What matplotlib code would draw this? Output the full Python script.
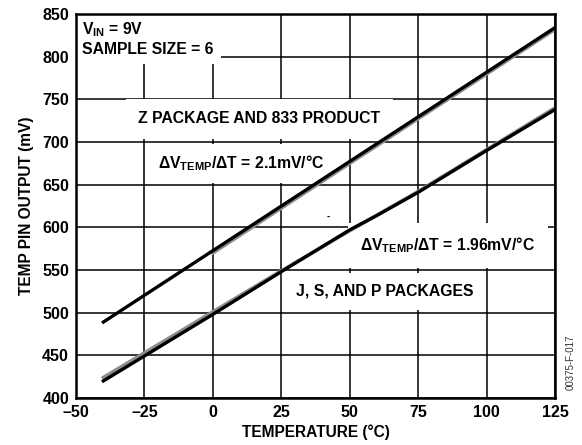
import matplotlib
matplotlib.use("Agg")
import matplotlib.pyplot as plt

# temperature (deg C) and TEMP pin output (mV)
z_black_t = [-40, 125]
z_black_mv = [489, 834]
z_gray_t = [0, 50, 125]
z_gray_mv = [570, 675, 832]

jsp_black_t = [-40, 0, 25, 50, 60, 75, 100, 125]
jsp_black_mv = [420, 498, 548, 597, 614, 641, 690, 738]
jsp_gray_t = [-40, 0, 25, 50, 75, 100, 125]
jsp_gray_mv = [424, 501, 549, 596, 642, 691, 740]

x_ticks = [-50, -25, 0, 25, 50, 75, 100, 125]
x_labels = ["\u201350", "\u201325", "0", "25", "50", "75", "100", "125"]
y_ticks = [400, 450, 500, 550, 600, 650, 700, 750, 800, 850]

plt.rcParams['font.family'] = ['Liberation Sans', 'DejaVu Sans']
plt.rcParams['font.weight'] = 'bold'
plt.rcParams['mathtext.default'] = 'regular'

fig = plt.figure(figsize=(5.82, 4.45), dpi=100)
ax = fig.add_axes([0.1306, 0.1056, 0.823, 0.863])

ax.plot(z_gray_t, z_gray_mv, color='#8c8c8c', lw=2.6, zorder=4)
ax.plot(z_black_t, z_black_mv, color='black', lw=2.4, zorder=5)
ax.plot(jsp_gray_t, jsp_gray_mv, color='#8c8c8c', lw=2.6, zorder=4)
ax.plot(jsp_black_t, jsp_black_mv, color='black', lw=2.4, zorder=5)

ax.set_xlim(-50, 125)
ax.set_ylim(400, 850)
ax.set_xticks(x_ticks)
ax.set_xticklabels(x_labels)
ax.set_yticks(y_ticks)
ax.tick_params(length=0, labelsize=11.5, pad=5)
ax.grid(True, color='black', lw=1.1, zorder=1)
ax.set_axisbelow(True)
for s in ax.spines.values():
    s.set_linewidth(1.8)
    s.set_zorder(6)

ax.set_xlabel("TEMPERATURE (\u00b0C)", fontsize=11.2, fontweight='bold', labelpad=3)
ax.set_ylabel("TEMP PIN OUTPUT (mV)", fontsize=11.2, fontweight='bold', labelpad=6)

fs = 11.3
box = dict(boxstyle='square,pad=0.45', facecolor='white', edgecolor='none')
ax.text(-47.8, 821, "$V_{IN}$ = 9V\nSAMPLE SIZE = 6", fontsize=fs,
        ha='left', va='center', linespacing=1.2, bbox=box, zorder=3)

box2 = dict(boxstyle='square,pad=0.8', facecolor='white', edgecolor='none')
ax.text(16.9, 727, "Z PACKAGE AND 833 PRODUCT", fontsize=fs,
        ha='center', va='center', bbox=box2, zorder=3)
ax.text(10.5, 675, "\u0394$V_{TEMP}$/\u0394T = 2.1mV/\u00b0C", fontsize=fs,
        ha='center', va='center',
        bbox=dict(boxstyle='square,pad=0.6', facecolor='white', edgecolor='none'),
        zorder=3)
ax.text(85.9, 579, "\u0394$V_{TEMP}$/\u0394T = 1.96mV/\u00b0C", fontsize=fs,
        ha='center', va='center', bbox=box2, zorder=3)
box3 = dict(boxstyle='square,pad=0.7', facecolor='white', edgecolor='none')
ax.text(62.7, 525, "J, S, AND P PACKAGES", fontsize=fs,
        ha='center', va='center', bbox=box3, zorder=3)
ax.text(42, 612, "-", fontsize=7, ha='center', va='center', zorder=3)

fig.text(0.981, 0.185, "00375-F-017", rotation=90, fontsize=7,
         fontweight='normal', color='#333333', ha='center', va='center')

fig.savefig("out.png", dpi=100)
